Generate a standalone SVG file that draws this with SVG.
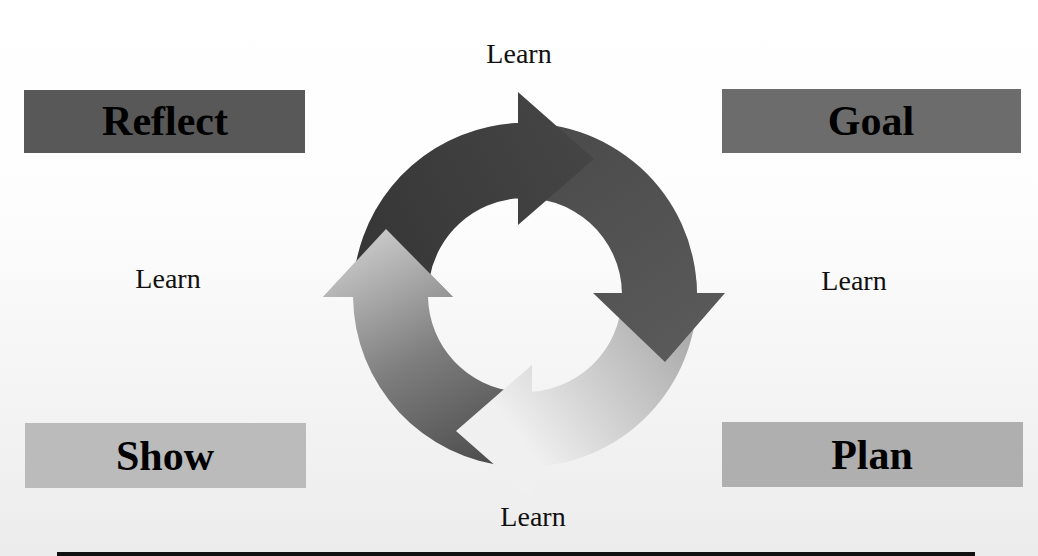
<svg xmlns="http://www.w3.org/2000/svg" width="1038" height="556" viewBox="0 0 1038 556">
  <defs>
    <linearGradient id="bg" x1="0" y1="0" x2="0" y2="556" gradientUnits="userSpaceOnUse">
      <stop offset="0" stop-color="#ffffff"/>
      <stop offset="0.38" stop-color="#fdfdfd"/>
      <stop offset="1" stop-color="#ececec"/>
    </linearGradient>
    <linearGradient id="g1" x1="360" y1="260" x2="590" y2="150" gradientUnits="userSpaceOnUse">
      <stop offset="0" stop-color="#363636"/>
      <stop offset="1" stop-color="#454545"/>
    </linearGradient>
    <linearGradient id="g2" x1="540" y1="130" x2="690" y2="350" gradientUnits="userSpaceOnUse">
      <stop offset="0" stop-color="#4a4a4a"/>
      <stop offset="1" stop-color="#5a5a5a"/>
    </linearGradient>
    <linearGradient id="g3" x1="690" y1="320" x2="525" y2="445" gradientUnits="userSpaceOnUse">
      <stop offset="0" stop-color="#a8a8a8"/>
      <stop offset="0.5" stop-color="#cbcbcb"/>
      <stop offset="1" stop-color="#f0f0f0"/>
    </linearGradient>
    <linearGradient id="g4" x1="505" y1="455" x2="386" y2="232" gradientUnits="userSpaceOnUse">
      <stop offset="0" stop-color="#4c4c4c"/>
      <stop offset="0.5" stop-color="#7e7e7e"/>
      <stop offset="1" stop-color="#c6c6c6"/>
    </linearGradient>
    <style>
      .box-label { font-family: "Liberation Serif", "Times New Roman", serif; font-weight: bold; font-size: 42px; fill: #000; text-anchor: middle; }
      .learn { font-family: "Liberation Serif", "Times New Roman", serif; font-size: 28px; fill: #111; text-anchor: middle; }
    </style>
  </defs>

  <rect x="0" y="0" width="1038" height="556" fill="url(#bg)"/>

  <g id="cycle">
    <!-- A4: lower-left arrow (drawn first, head redrawn on top later) -->
    <path id="arrow4" fill="url(#g4)" d="M510,466.3 A172,172 0 0 1 353,297 L323,297 L386,229 L453,297 L428,297 A97,97 0 0 0 516.5,391.6 Z"/>
    <!-- A3: lower-right light arrow -->
    <path id="arrow3" fill="url(#g3)" d="M696.3,280 A172,172 0 0 1 532,466.9 L532,498 L456,431 L532,365 L532,391.8 A97,97 0 0 0 621.6,286.5 Z"/>
    <!-- A2: upper-right arrow -->
    <path id="arrow2" fill="url(#g2)" d="M510,123.7 A172,172 0 0 1 697,293 L725,293 L665,362 L593,293 L622,293 A97,97 0 0 0 516.5,198.4 Z"/>
    <!-- A1: upper-left darkest arrow -->
    <path id="arrow1" fill="url(#g1)" d="M355.6,265.1 A172,172 0 0 1 518,123.1 L518,92 L594,159 L518,225 L518,198.3 A97,97 0 0 0 429.5,278.2 Z"/>
    <!-- A4 head on top of A1 tail -->
    <path id="arrow4-head" fill="url(#g4)" d="M323,297 L386,229 L453,297 Z"/>
  </g>

  <g id="node-reflect">
    <rect x="24" y="90" width="281" height="63" fill="#585858"/>
    <text class="box-label" x="165" y="135">Reflect</text>
  </g>
  <g id="node-goal">
    <rect x="722" y="89" width="299" height="64" fill="#6c6c6c"/>
    <text class="box-label" x="871" y="135">Goal</text>
  </g>
  <g id="node-show">
    <rect x="25" y="423" width="281" height="65" fill="#bbbbbb"/>
    <text class="box-label" x="165" y="470">Show</text>
  </g>
  <g id="node-plan">
    <rect x="722" y="422" width="301" height="65" fill="#afafaf"/>
    <text class="box-label" x="872" y="469">Plan</text>
  </g>

  <g id="labels">
    <text class="learn" x="519" y="63">Learn</text>
    <text class="learn" x="168" y="288">Learn</text>
    <text class="learn" x="854" y="290">Learn</text>
    <text class="learn" x="533" y="526">Learn</text>
  </g>

  <rect x="57" y="552" width="918" height="4" fill="#111"/>
</svg>
